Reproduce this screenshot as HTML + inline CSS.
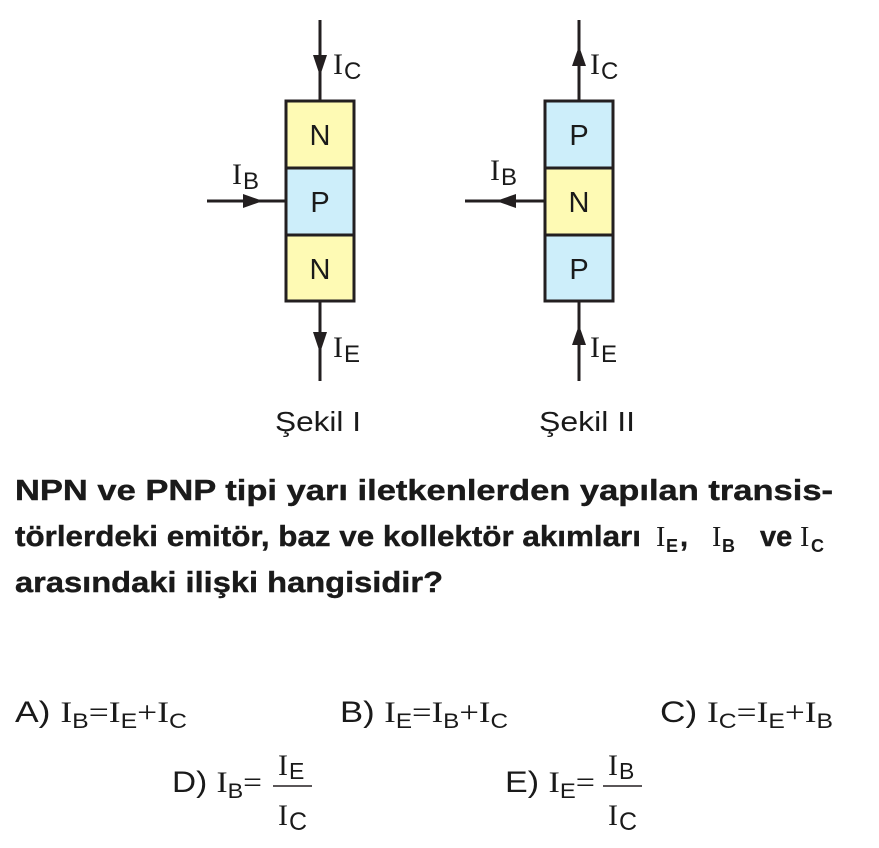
<!DOCTYPE html>
<html><head><meta charset="utf-8"><style>
body{margin:0;background:#fff;}
svg text{font-family:"Liberation Sans",sans-serif;fill:#1a1a1a;}
.s{font-family:"Liberation Serif",serif;}
</style></head><body>
<svg width="879" height="843" viewBox="0 0 879 843" xmlns="http://www.w3.org/2000/svg">
<g stroke="#231f20" stroke-width="3">
<line x1="320" y1="20" x2="320" y2="101"/><line x1="320" y1="301" x2="320" y2="381"/>
<line x1="207" y1="201" x2="286" y2="201"/>
<line x1="579" y1="20" x2="579" y2="101"/><line x1="579" y1="301" x2="579" y2="381"/>
<line x1="465" y1="201" x2="545" y2="201"/>
<rect x="286" y="101" width="68" height="67" fill="#fefab4"/>
<rect x="286" y="168" width="68" height="67" fill="#cdeefa"/>
<rect x="286" y="235" width="68" height="66" fill="#fefab4"/>
<rect x="545" y="101" width="68" height="67" fill="#cdeefa"/>
<rect x="545" y="168" width="68" height="67" fill="#fefab4"/>
<rect x="545" y="235" width="68" height="66" fill="#cdeefa"/>
</g>
<g fill="#231f20">
<polygon points="313,55 327,55 320,76"/>
<polygon points="313,332 327,332 320,353"/>
<polygon points="243,194 243,208 263,201"/>
<polygon points="572,66 586,66 579,46"/>
<polygon points="572,345 586,345 579,325"/>
<polygon points="516,194 516,208 496,201"/>
</g>
<g font-size="29" text-anchor="middle">
<text x="320" y="145">N</text><text x="320" y="212">P</text><text x="320" y="279">N</text>
<text x="579" y="145">P</text><text x="579" y="212">N</text><text x="579" y="279">P</text>
</g>
<g font-size="30">
<text class="s" x="333" y="74">I</text><text x="344" y="79" font-size="24">C</text>
<text class="s" x="333" y="357">I</text><text x="344" y="362" font-size="24">E</text>
<text class="s" x="232" y="184">I</text><text x="243" y="189" font-size="24">B</text>
<text class="s" x="590" y="74">I</text><text x="601" y="79" font-size="24">C</text>
<text class="s" x="590" y="357">I</text><text x="601" y="362" font-size="24">E</text>
<text class="s" x="490" y="180">I</text><text x="501" y="185" font-size="24">B</text>
<text x="275" y="431" font-size="28" textLength="86" lengthAdjust="spacingAndGlyphs">Şekil I</text>
<text x="539" y="431" font-size="28" textLength="96" lengthAdjust="spacingAndGlyphs">Şekil II</text>
</g>
<g font-size="29" font-weight="bold" stroke="#1a1a1a" stroke-width="0.4">
<text x="15" y="500" textLength="818" lengthAdjust="spacingAndGlyphs">NPN ve PNP tipi yarı iletkenlerden yapılan transis-</text>
<text x="15" y="546" textLength="626" lengthAdjust="spacingAndGlyphs">törlerdeki emitör, baz ve kollektör akımları</text>
<text x="680" y="546">,</text>
<text x="760" y="546">ve</text>
<text x="15" y="592" textLength="428" lengthAdjust="spacingAndGlyphs">arasındaki ilişki hangisidir?</text>
</g>
<g font-size="28">
<text class="s" x="656" y="546">I</text><text x="666" y="552" font-size="18" font-weight="bold">E</text>
<text class="s" x="712" y="546">I</text><text x="722" y="552" font-size="18" font-weight="bold">B</text>
<text class="s" x="800" y="546">I</text><text x="811" y="552" font-size="18" font-weight="bold">C</text>
</g>
<g font-size="30">
<text x="15" y="722" textLength="172" lengthAdjust="spacingAndGlyphs">A) <tspan class="s">I</tspan><tspan font-size="21" dy="6">B</tspan><tspan class="s" dy="-6">=I</tspan><tspan font-size="21" dy="6">E</tspan><tspan class="s" dy="-6">+I</tspan><tspan font-size="21" dy="6">C</tspan></text>
<text x="340" y="722" textLength="168" lengthAdjust="spacingAndGlyphs">B) <tspan class="s">I</tspan><tspan font-size="21" dy="6">E</tspan><tspan class="s" dy="-6">=I</tspan><tspan font-size="21" dy="6">B</tspan><tspan class="s" dy="-6">+I</tspan><tspan font-size="21" dy="6">C</tspan></text>
<text x="660" y="722" textLength="173" lengthAdjust="spacingAndGlyphs">C) <tspan class="s">I</tspan><tspan font-size="21" dy="6">C</tspan><tspan class="s" dy="-6">=I</tspan><tspan font-size="21" dy="6">E</tspan><tspan class="s" dy="-6">+I</tspan><tspan font-size="21" dy="6">B</tspan></text>
<text x="172" y="792" textLength="90" lengthAdjust="spacingAndGlyphs">D) <tspan class="s">I</tspan><tspan font-size="21" dy="6">B</tspan><tspan class="s" dy="-6">=</tspan></text>
<text class="s" x="278" y="775">I</text><text x="289" y="779" font-size="23">E</text>
<text class="s" x="278" y="825">I</text><text x="289" y="830" font-size="25">C</text>
<text x="505" y="792" textLength="90" lengthAdjust="spacingAndGlyphs">E) <tspan class="s">I</tspan><tspan font-size="21" dy="6">E</tspan><tspan class="s" dy="-6">=</tspan></text>
<text class="s" x="608" y="775">I</text><text x="619" y="779" font-size="23">B</text>
<text class="s" x="608" y="825">I</text><text x="619" y="830" font-size="25">C</text>
</g>
<line x1="273" y1="786" x2="312" y2="786" stroke="#231f20" stroke-width="1.5"/>
<line x1="603" y1="786" x2="642" y2="786" stroke="#231f20" stroke-width="1.5"/>
</svg>
</body></html>
